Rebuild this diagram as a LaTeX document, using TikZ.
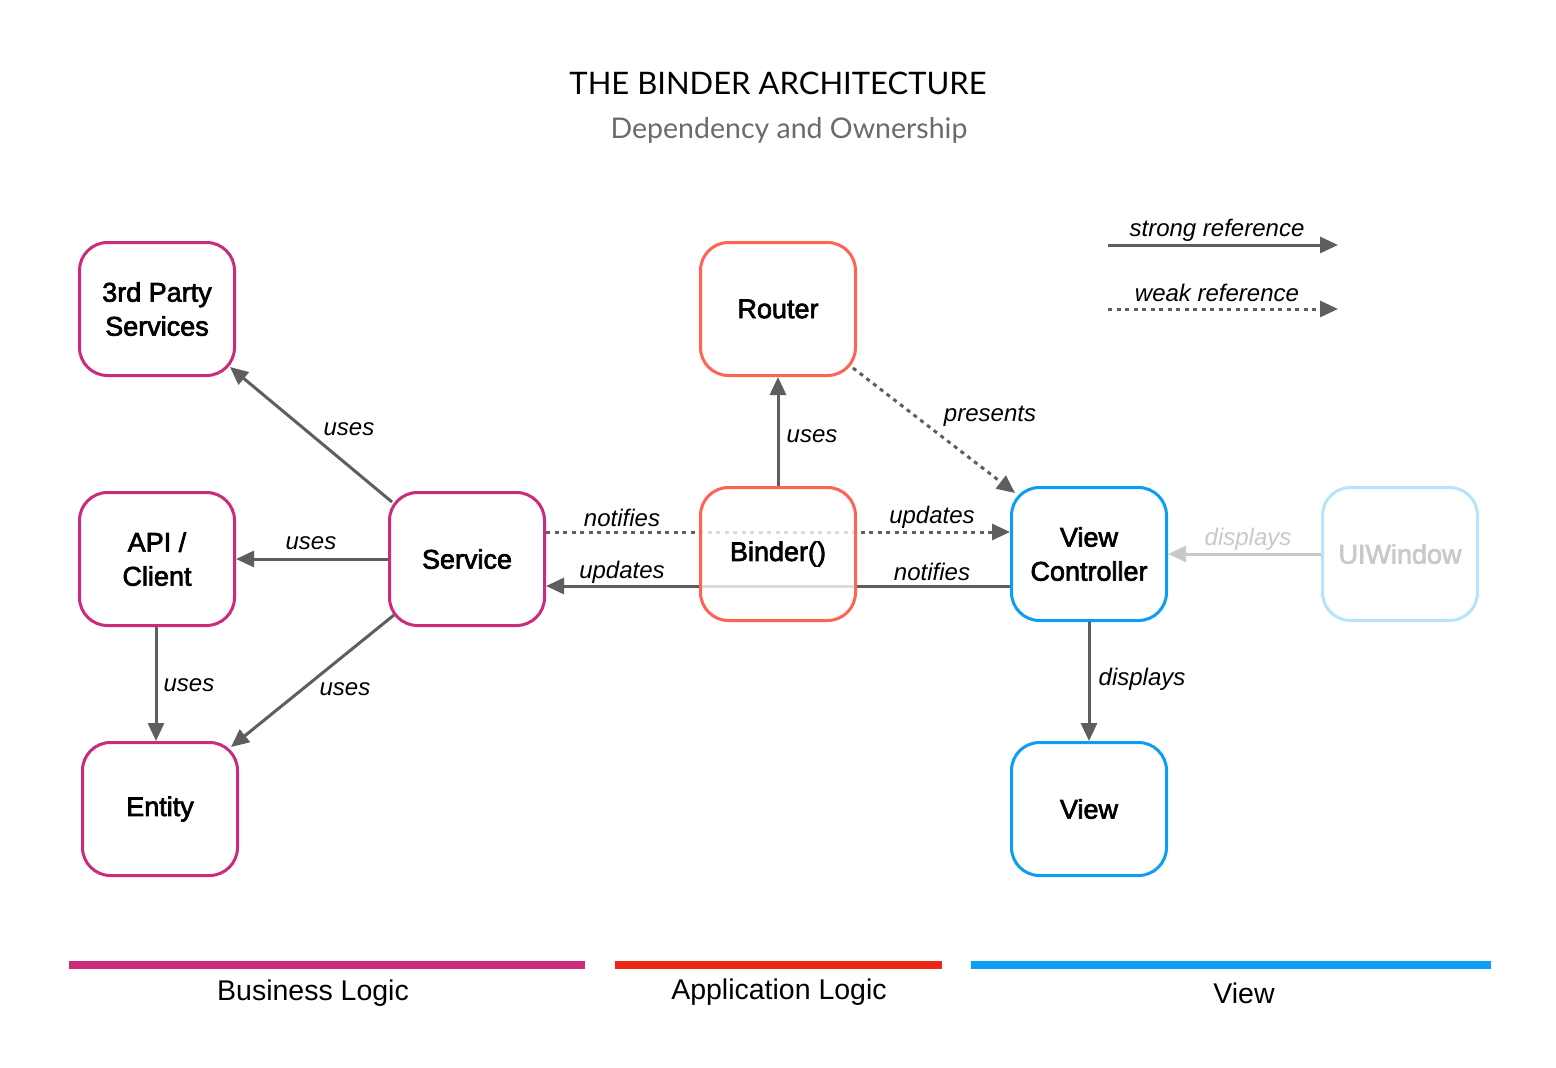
\documentclass[tikz,border=0pt]{standalone}
\usepackage{fontspec}
\setmainfont{Liberation Sans}
\newfontfamily\nodefont{Liberation Sans}[FakeBold=2.5]
\newfontfamily\titlefont{Lato}
\usetikzlibrary{arrows.meta,calc,backgrounds}
\definecolor{magentaC}{HTML}{CC2B7C}
\definecolor{routerC}{HTML}{FF6351}
\definecolor{blueC}{HTML}{0A9EF5}
\definecolor{paleblue}{HTML}{B5E4FD}
\definecolor{arrowC}{HTML}{5E5E5E}
\definecolor{lightarrow}{HTML}{C9C9C9}
\definecolor{barMag}{HTML}{CC2D7B}
\definecolor{barRed}{HTML}{EC2814}
\definecolor{barBlue}{HTML}{0AA0F5}
\definecolor{subgray}{HTML}{6B6B6B}
\begin{document}
\begin{tikzpicture}[x=1pt,y=-1pt,
  box/.style={draw, line width=3pt, rounded corners=28pt, fill=white,
    minimum width=155pt, minimum height=133pt, align=center, inner sep=0pt,
    font=\nodefont\fontsize{27}{34}\selectfont},
  strong/.style={draw=arrowC, line width=3pt, -{Triangle[length=18pt,width=16pt]}},
  weak/.style={strong, dash pattern=on 4pt off 4.5pt},
  lbl/.style={font=\itshape\fontsize{24}{28}\selectfont, inner sep=1pt},
  grouplbl/.style={font=\fontsize{28.5}{32}\selectfont, inner sep=1pt}]
\useasboundingbox (0,0) rectangle (1556,1068);
\begin{pgfonlayer}{background}
\fill[white] (0,0) rectangle (1556,1068);
\end{pgfonlayer}

% titles
\node[font=\titlefont\fontsize{31}{36}\selectfont] (title) at (778,83) {THE BINDER ARCHITECTURE};
\node[font=\titlefont\fontsize{28.5}{32}\selectfont, text=subgray] (subtitle) at (789,130) {Dependency and Ownership};

% nodes
\node[box, draw=magentaC] (third) at (157,309) {3rd Party\\Services};
\node[box, draw=magentaC] (api) at (157,559) {API /\\Client};
\node[box, draw=magentaC] (entity) at (160,809) {Entity};
\node[box, draw=magentaC] (service) at (467,559) {Service};
\node[box, draw=routerC] (router) at (778,309) {Router};
\node[box, draw=routerC, fill opacity=0.78, text opacity=1] (binder) at (778,554) {Binder()};
\node[box, draw=blueC] (vc) at (1089,554) {View\\Controller};
\node[box, draw=paleblue, text=lightarrow] (window) at (1400,554) {UIWindow};
\node[box, draw=blueC] (view) at (1089,809) {View};

% legend
\coordinate (ls1) at (1108,245);
\coordinate (ls2) at (1338,245);
\coordinate (lw1) at (1108,309);
\coordinate (lw2) at (1338,309);
\draw[strong] (ls1) -- (ls2);
\draw[weak] (lw1) -- (lw2);
\node[lbl] (lsl) at (1217,230) {strong reference};
\node[lbl] (lwl) at (1217,293) {weak reference};

% helper coordinates
\coordinate (svTop) at ($(service.east)+(0,-27)$);
\coordinate (vcBot) at ($(vc.west)+(0,32)$);
\coordinate (apiBot) at ($(api.south)+(-1,0)$);

% connectors
\begin{pgfonlayer}{background}
\draw[strong] ($(service.north west)+(4,11)$) -- ($(third.south east)+(-6,-10)$);
\draw[strong] (service.west) -- (api.east);
\draw[strong] ($(service.south west)+(6,-12)$) -- ($(entity.north east)+(-8,6)$);
\draw[strong] (apiBot) -- (apiBot |- entity.north);
\draw[strong] (binder.north) -- (router.south);
\draw[weak] ($(router.south east)+(-4,-9)$) -- ($(vc.north west)+(5,7)$);
\draw[weak] (svTop) -- (svTop -| vc.west);
\draw[strong] (vcBot) -- (vcBot -| service.east);
\draw[strong] (vc.south) -- (view.north);
\draw[draw=lightarrow, line width=3pt, -{Triangle[length=18pt,width=16pt]}] (window.west) -- (vc.east);
\end{pgfonlayer}

% connector labels
\node[lbl] (l1) at (349,429) {uses};
\node[lbl] (l2) at (311,543) {uses};
\node[lbl] (l3) at (345,689) {uses};
\node[lbl] (l4) at (189,685) {uses};
\node[lbl] (l5) at (812,436) {uses};
\node[lbl] (l6) at (990,416) {presents};
\node[lbl] (l7) at (622,518) {notifies};
\node[lbl] (l8) at (932,517) {updates};
\node[lbl] (l9) at (622,572) {updates};
\node[lbl] (l10) at (932,572) {notifies};
\node[lbl] (l11) at (1142,679) {displays};
\node[lbl, text=lightarrow] (l12) at (1248,539) {displays};

% group bars
\fill[barMag] (69,961) rectangle (585,969);
\fill[barRed] (615,961) rectangle (942,969);
\fill[barBlue] (971,961) rectangle (1491,969);
\node[grouplbl] (g1) at (313,993) {Business Logic};
\node[grouplbl] (g2) at (779,992) {Application Logic};
\node[grouplbl] (g3) at (1244,993) {View};
\end{tikzpicture}
\end{document}
